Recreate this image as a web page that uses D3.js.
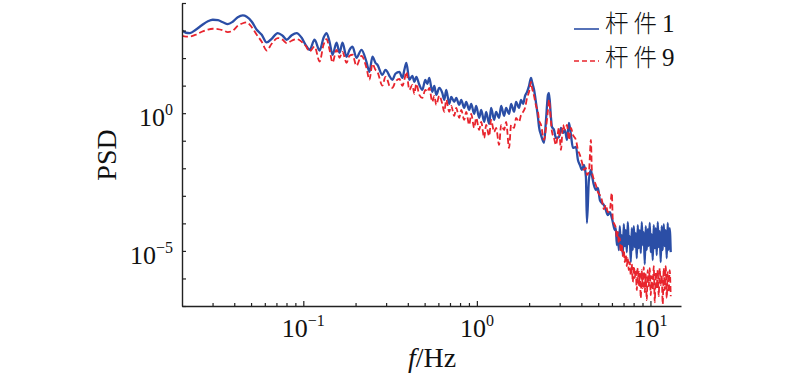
<!DOCTYPE html>
<html><head><meta charset="utf-8">
<script src="https://cdn.jsdelivr.net/npm/d3@7/dist/d3.min.js"></script>
<style>body{margin:0;background:#fff}svg{display:block}</style>
</head><body><svg id="c" width="800" height="376"></svg>
<script>
// frequency (Hz)
const freq = [
0.0200,0.0211,0.0222,0.0240,0.0260,0.0282,0.0301,0.0322,0.0344,0.0367,
0.0392,0.0419,0.0448,0.0472,0.0505,0.0539,0.0576,0.0615,0.0657,0.0712,
0.0760,0.0802,0.0857,0.0915,0.0978,0.1031,0.1087,0.1161,0.1241,0.1308,
0.1361,0.1416,0.1474,0.1554,0.1617,0.1682,0.1774,0.1846,0.1920,0.2024,
0.2163,0.2311,0.2404,0.2502,0.2604,0.2673,0.2855,0.2972,0.3051,0.3133,
0.3260,0.3392,0.3577,0.3722,0.3822,0.3924,0.4083,0.4249,0.4363,0.4478,
0.4660,0.4850,0.5046,0.5181,0.5320,0.5534,0.5683,0.5835,0.6071,0.6318,
0.6487,0.6661,0.6931,0.7118,0.7405,0.7603,0.7912,0.8124,0.8453,0.8680,
0.9031,0.9273,0.9649,0.9908,1.031,1.059,1.102,1.131,1.177,1.208,
1.257,1.291,1.343,1.380,1.435,1.474,1.533,1.575,1.638,1.682,
1.750,1.797,1.846,1.895,1.946,1.998,2.052,2.079,2.135,2.192,
2.251,2.280,2.342,2.437,2.502,2.569,2.604,2.673,2.709,2.782,
2.855,2.972,3.051,3.133,3.217,3.304,3.392,3.483,3.577,3.722,
3.822,3.924,4.029,4.137,4.249,4.305,4.420,4.539,4.599,4.722,
4.850,4.980,5.113,5.250,5.390,5.534,5.683,5.835,5.992,6.071,
6.235,
6.318,6.402,6.487,6.574,6.661,6.750,6.840,6.931,7.023,7.118,
7.211,7.308,7.405,7.504,7.603,7.705,7.807,7.912,8.017,8.124,
8.231,8.342,8.453,8.566,8.680,8.797,8.913,9.031,9.152,9.273,
9.397,9.522,9.649,9.777,9.908,10.04,10.17,10.31,10.45,10.59,
10.73,10.87,11.02,11.16,11.31,11.46,11.61,11.77,11.93,12.08,
12.25,12.41,12.58,12.74,12.91,13.09
];
// PSD of 杆件1
const psd1 = [
1010,832,811,1069,1558,2178,2470,2369,2004,1723,
2089,3045,3541,3176,2089,1069,704,369,503,811,
647,463,675,811,547,304,200,463,189,547,
811,391,132,360,156,360,112,200,258,103,
200,73.4,31.8,112,67.5,57.1,24.7,37.5,31.8,22.7,
16.3,26.9,31.8,19.2,37.5,67.5,16.3,22.7,13.7,20.9,
10.7,7.04,16.3,11.6,19.2,5.95,9.83,4.63,8.32,5.47,
3.04,7.04,2.18,3.91,2.58,3.60,2.00,3.04,1.56,2.58,
1.32,2.18,0.943,1.84,0.675,1.32,0.483,1.12,0.408,1.56,
0.571,1.12,0.675,1.84,0.798,1.56,0.943,2.18,1.12,2.58,
1.56,3.04,2.18,4.26,5.95,9.83,19.2,13.7,7.04,2.37,
0.675,0.318,0.163,0.0832,0.571,4.63,5.47,0.675,0.318,0.247,
0.126,0.137,0.292,0.192,0.247,0.107,0.444,0.163,0.0547,0.0595,
0.0200,0.0132,0.00868,0.0132,0.00483,0.000103,0.00375,0.00868,0.00571,0.00247,
0.00163,0.00192,0.000704,0.000547,0.000463,0.000304,0.000200,0.000258,0.000156,0.000111,
5.71e-5,
6.75e-5,1.63e-5,4.83e-5,1.07e-5,7.98e-5,1.26e-5,3.75e-5,7.04e-6,9.43e-5,1.49e-5,
5.71e-5,9.04e-6,1.11e-4,1.77e-5,3.45e-5,3.91e-6,6.75e-5,1.07e-5,7.98e-5,1.37e-5,
4.44e-5,5.47e-6,8.68e-5,1.26e-5,5.71e-5,8.32e-6,1.11e-4,1.63e-5,4.83e-5,3.31e-6,
7.98e-5,1.07e-5,6.21e-5,1.49e-5,1.03e-4,9.04e-6,4.08e-5,4.63e-6,8.68e-5,1.26e-5,
6.75e-5,7.04e-6,1.11e-4,1.37e-5,5.25e-5,3.91e-6,7.98e-5,1.07e-5,9.43e-5,1.49e-5,
5.71e-5,5.47e-6,1.03e-4,1.07e-5,6.75e-5,9.04e-6
];
// PSD of 杆件9
const psd9 = [
647,605,610,704,904,1087,1163,1134,1025,882,
983,1495,1843,1970,1318,704,391,189,331,534,
463,351,426,491,391,280,174,264,75.2,304,
491,200,69.2,200,103,169,67.5,121,132,52.5,
121,44.4,16.3,62.0,37.5,31.8,10.0,20.9,16.3,9.83,
8.32,13.7,17.7,9.83,16.3,31.8,7.04,10.7,5.03,11.6,
4.63,3.60,7.04,5.95,8.32,2.58,4.26,2.00,4.26,2.18,
1.12,3.04,1.12,1.84,0.798,1.56,0.675,1.32,0.571,1.12,
0.375,0.943,0.292,0.675,0.247,0.483,0.125,0.375,0.148,0.571,
0.209,0.292,0.0704,0.375,0.247,0.483,0.0547,0.375,0.292,0.675,
0.483,0.867,1.12,1.56,3.60,5.95,13.7,8.32,4.26,1.84,
1.12,0.571,0.375,0.107,0.292,1.32,3.04,0.483,0.209,0.125,
0.0704,0.292,0.0463,0.375,0.247,0.375,0.107,0.292,0.163,0.107,
0.0463,0.0304,0.0169,0.00868,0.0103,0.00571,0.00734,0.107,0.00868,0.00391,
0.00247,0.00137,0.00107,0.000704,0.000328,0.000463,0.000258,0.000304,0.00126,0.000132,
8.68e-5,
6.75e-5,2.92e-5,4.83e-5,1.92e-5,2.92e-5,9.04e-6,1.77e-5,6.47e-6,1.07e-5,3.91e-6,
7.04e-6,2.80e-6,5.47e-6,2.00e-6,3.91e-6,1.32e-6,3.31e-6,7.34e-7,2.80e-6,1.03e-6,
2.00e-6,3.75e-7,2.37e-6,5.71e-7,1.69e-6,1.92e-7,2.00e-6,4.44e-7,2.58e-6,3.18e-7,
1.43e-6,1.63e-7,2.00e-6,5.25e-7,2.37e-6,2.47e-7,1.21e-6,3.75e-7,2.80e-6,1.37e-7,
1.69e-6,4.44e-7,2.00e-6,2.27e-7,2.37e-6,5.71e-7,1.32e-6,1.16e-7,2.37e-6,3.75e-7,
2.80e-6,1.92e-7,1.69e-6,3.18e-7,2.00e-6,2.27e-7
];
const seriesNames = ["杆件1", "杆件9"];
const xTickValues = [0.1, 1, 10];
const xTickExps = ["\u22121", "0", "1"];
const yTickValues = [1, 1e-5];
const yTickExps = ["0", "\u22125"];
const xLabel = ["f", "/Hz"];
const yLabel = "PSD";

const svg = d3.select("#c");
const L = 182, R = 681, T = 3, B = 306;
const x = d3.scaleLog().domain([0.02, 15]).range([L, R]);
const y = d3.scaleLog().domain([1e-7, 1e4]).range([B, T]);
const serif = "'Liberation Serif','Times New Roman',serif";
const blue = "#2b4ea6", red = "#e8242d";

svg.append("clipPath").attr("id", "clip").append("rect")
  .attr("x", L).attr("y", T).attr("width", R - L).attr("height", B - T);

const data1 = freq.map((f, i) => [f, psd1[i]]);
const data9 = freq.map((f, i) => [f, psd9[i]]);
const line = d3.line().x(d => x(d[0])).y(d => y(d[1])).curve(d3.curveMonotoneX);

const g = svg.append("g").attr("clip-path", "url(#clip)");
g.append("path").datum(data1).attr("d", line)
  .attr("fill", "none").attr("stroke", blue).attr("stroke-width", 2.3).attr("stroke-linejoin", "round");
g.append("path").datum(data9).attr("d", line)
  .attr("fill", "none").attr("stroke", red).attr("stroke-width", 1.8)
  .attr("stroke-dasharray", "6,3");

// axes
const minorX = [];
[0.01, 0.1, 1].forEach(dec => { for (let k = 2; k <= 9; k++) { const v = dec * k; if (v > 0.02 && v < 15) minorX.push(v); } });
svg.append("g").attr("transform", `translate(0,${B})`)
  .call(d3.axisBottom(x).tickValues(xTickValues).tickSizeInner(-5).tickSizeOuter(0).tickFormat(""));
svg.append("g").attr("transform", `translate(0,${B})`)
  .call(d3.axisBottom(x).tickValues(minorX).tickSizeInner(-3).tickSizeOuter(0).tickFormat(""))
  .select(".domain").remove();
const yDecades = d3.range(-7, 5).map(e => Math.pow(10, e));
svg.append("g").attr("transform", `translate(${L},0)`)
  .call(d3.axisLeft(y).tickValues(yDecades).tickSizeInner(-4).tickSizeOuter(0).tickFormat(""));
svg.selectAll(".domain").attr("stroke", "#222").attr("stroke-width", 1.4);
svg.selectAll(".tick line").attr("stroke", "#222").attr("stroke-width", 1.2);

// tick labels
xTickValues.forEach((v, i) => {
  const t = svg.append("text").attr("x", x(v)).attr("y", 337).attr("text-anchor", "middle")
    .attr("font-family", serif).attr("font-size", 26).attr("fill", "#111");
  t.append("tspan").text("10");
  t.append("tspan").attr("dy", -11).attr("font-size", 16).text(xTickExps[i]);
});
yTickValues.forEach((v, i) => {
  const t = svg.append("text").attr("x", 173).attr("y", y(v) + 13).attr("text-anchor", "end")
    .attr("font-family", serif).attr("font-size", 26).attr("fill", "#111");
  t.append("tspan").text("10");
  t.append("tspan").attr("dy", -11).attr("font-size", 16).text(yTickExps[i]);
});

// axis titles
const xl = svg.append("text").attr("x", 432).attr("y", 367).attr("text-anchor", "middle")
  .attr("font-family", serif).attr("font-size", 28).attr("fill", "#111");
xl.append("tspan").attr("font-style", "italic").text(xLabel[0]);
xl.append("tspan").text(xLabel[1]);
svg.append("text").attr("transform", "translate(116,155) rotate(-90)").attr("text-anchor", "middle")
  .attr("font-family", serif).attr("font-size", 28).attr("fill", "#111").text(yLabel);

// legend
const legY = [29, 61];
const legBase = [32, 66];
seriesNames.forEach((name, i) => {
  svg.append("line").attr("x1", 574).attr("x2", 599).attr("y1", legY[i]).attr("y2", legY[i])
    .attr("stroke", i === 0 ? blue : red).attr("stroke-width", 1.6)
    .attr("stroke-dasharray", i === 0 ? null : "5,3");
  const t = svg.append("text").attr("x", 605).attr("y", legBase[i])
    .attr("font-size", 23.5).attr("fill", "#111");
  t.append("tspan").attr("font-family", "'Noto Sans CJK SC'").attr("font-weight", 300)
    .attr("letter-spacing", 5).text(name.slice(0, 2));
  t.append("tspan").attr("font-family", serif).attr("font-size", 25).text(name.slice(2));
});
</script></body></html>
